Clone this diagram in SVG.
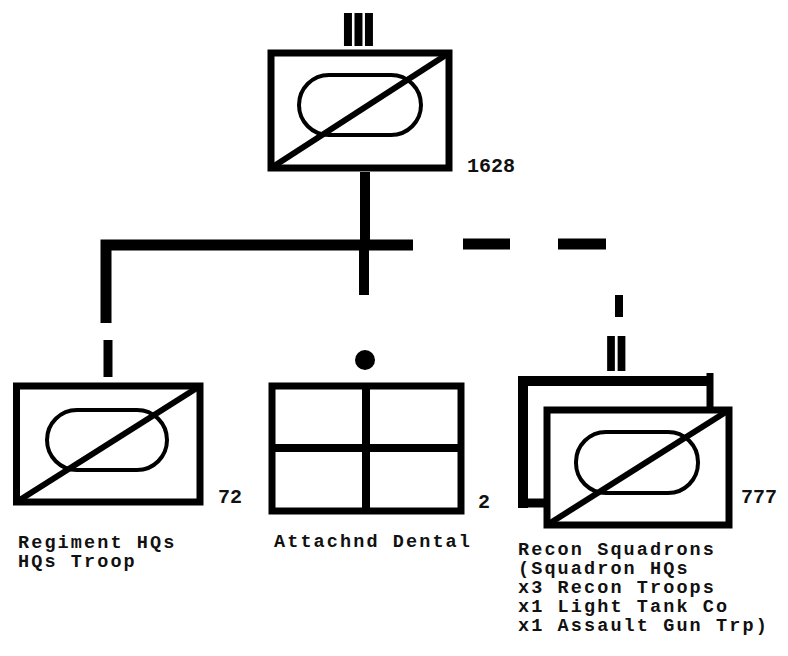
<svg xmlns="http://www.w3.org/2000/svg" width="788" height="656" viewBox="0 0 788 656">
<style>
.frame{fill:#fff;stroke:#000;stroke-width:7;stroke-linejoin:miter}
.oval{fill:none;stroke:#000;stroke-width:4}
.diag{stroke:#000;stroke-width:6;fill:none}
.conn{stroke:#000;fill:none;stroke-linecap:butt;stroke-linejoin:miter}
.lbl{font-family:"Liberation Mono","Courier New",monospace;font-weight:bold;font-size:18.5px;letter-spacing:2.1px;fill:#111}
.num{font-family:"Liberation Mono","Courier New",monospace;font-weight:bold;font-size:20px;fill:#111}
.ech{font-family:"Liberation Sans",Arial,sans-serif;font-weight:bold;fill:#000}
</style>
<rect width="788" height="656" fill="#fff"/>
<g id="connectors">
<path class="conn" d="M365,172 V245" stroke-width="10"/>
<path class="conn" d="M106,323 V245 H413" stroke-width="11"/>
<path class="conn" d="M364,245 V295" stroke-width="10"/>
<path class="conn" d="M108,340 V377" stroke-width="9"/>
<path class="conn" d="M463,244 H510 M558,244 H606" stroke-width="11"/>
<path class="conn" d="M619,295 V317" stroke-width="8"/>
</g>
<g id="regiment">
<text class="ech" font-size="47.5" letter-spacing="-4.2" transform="translate(340.3,46) scale(1.17,1)">III</text>
<rect class="frame" x="271" y="53" width="178" height="115"/>
<rect class="oval" x="299" y="75" width="122" height="60" rx="30"/>
<line class="diag" x1="271" y1="168" x2="449" y2="53"/>
<text class="num" x="467" y="172">1628</text>
</g>
<g id="hq-troop">
<rect class="frame" x="16.5" y="386" width="183.5" height="116"/>
<rect class="oval" x="47" y="410" width="120" height="60" rx="30"/>
<line class="diag" x1="16.5" y1="502" x2="200" y2="386"/>
<text class="num" x="218" y="503">72</text>
<text class="lbl" x="18" y="548">Regiment HQs</text>
<text class="lbl" x="18" y="567">HQs Troop</text>
</g>
<g id="dental">
<circle cx="365" cy="360" r="10" fill="#000"/>
<rect class="frame" x="272" y="386" width="189" height="125" stroke-width="9"/>
<path class="conn" d="M366,386 V511 M272,448 H461" stroke-width="8"/>
<text class="num" x="478" y="508">2</text>
<text class="lbl" x="274" y="547">Attachnd Dental</text>
</g>
<g id="recon">
<text class="ech" font-size="50" letter-spacing="-4" transform="translate(603.4,371) scale(1.08,1)">II</text>
<path class="conn" d="M523,508 V381 H710" stroke-width="10"/>
<path class="conn" d="M710,373 V410" stroke-width="7"/>
<path class="conn" d="M518,503 H548" stroke-width="9"/>
<rect class="frame" x="547" y="410" width="182" height="115"/>
<rect class="oval" x="576" y="432" width="122" height="61" rx="30"/>
<line class="diag" x1="547" y1="525" x2="729" y2="410"/>
<text class="num" x="741" y="503">777</text>
<text class="lbl" x="518" y="555">Recon Squadrons</text>
<text class="lbl" x="518" y="574">(Squadron HQs</text>
<text class="lbl" x="518" y="593">x3 Recon Troops</text>
<text class="lbl" x="518" y="612">x1 Light Tank Co</text>
<text class="lbl" x="518" y="631">x1 Assault Gun Trp)</text>
</g>
</svg>
